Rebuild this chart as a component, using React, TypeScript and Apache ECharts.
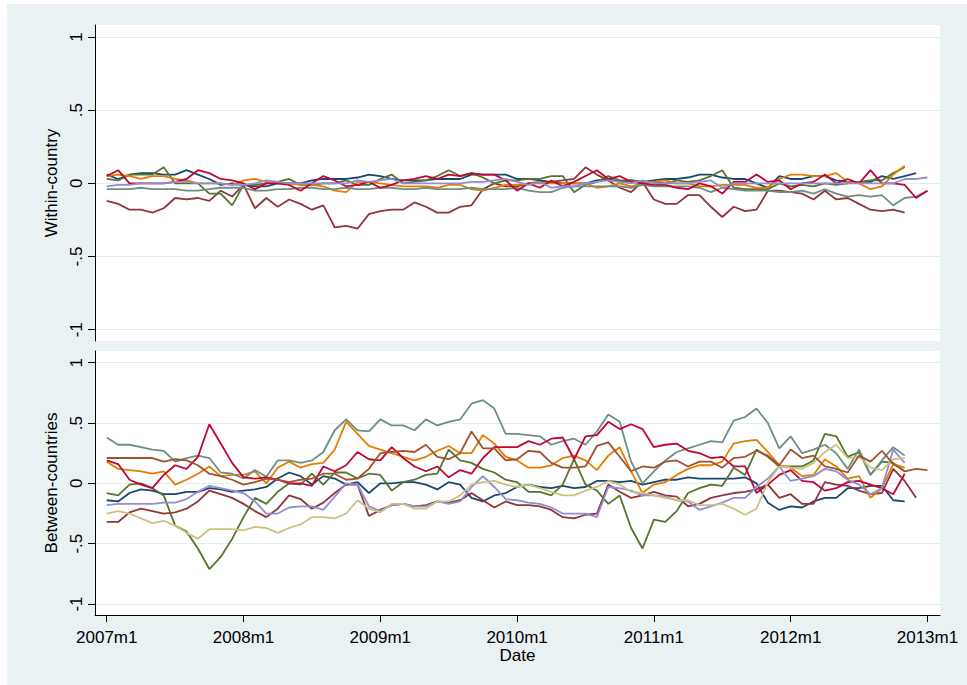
import React, { useEffect, useRef } from "react";
import * as echarts from "echarts";

// ---------- Tick labels ----------
const xTickValues = [0, 12, 24, 36, 48, 60, 72];
const xTickLabels = ["2007m1", "2008m1", "2009m1", "2010m1", "2011m1", "2012m1", "2013m1"];
const yTickValues = [-1, -0.5, 0, 0.5, 1];
const yTickLabels = ["-1", "-.5", "0", ".5", "1"];

// ---------- Within-country (top panel), monthly from 2007m1 ----------
const wNavy = [0.06, 0.03, 0.06, 0.07, 0.07, 0.06, 0.06, 0.09, 0.06, 0.03, -0.01, 0.0, -0.01, -0.02, -0.02, 0.0, 0.0, 0.0, 0.02, 0.03, 0.03, 0.03, 0.04, 0.06, 0.05, 0.03, 0.02, 0.02, 0.02, 0.03, 0.03, 0.03, 0.06, 0.06, 0.06, 0.06, 0.03,
  0.03, 0.02, 0.01, 0.0, 0.0, 0.0, 0.02, 0.03, 0.01, 0.02, 0.01, 0.02, 0.03, 0.03, 0.04, 0.06, 0.06, 0.04, 0.03, 0.03, 0.0, -0.03, 0.05, 0.03, 0.03, 0.05, 0.05, 0.02, 0.01, 0.01, 0.01, 0.05, 0.03, 0.05, 0.07];
const wMaroon = [-0.12, -0.14, -0.18, -0.18, -0.2, -0.17, -0.1, -0.11, -0.1, -0.12, -0.05, -0.09, -0.01, -0.17, -0.1, -0.16, -0.11, -0.14, -0.18, -0.15, -0.3, -0.29, -0.31, -0.21, -0.19, -0.18, -0.18, -0.13, -0.16, -0.2, -0.2, -0.16, -0.15, -0.04, 0.0, -0.02, -0.02,
  0.0, 0.01, 0.01, 0.02, 0.03, 0.11, 0.06, 0.02, -0.03, -0.06, 0.01, -0.11, -0.14, -0.14, -0.08, -0.08, -0.16, -0.23, -0.16, -0.19, -0.18, -0.05, -0.05, -0.06, -0.07, -0.11, -0.05, -0.11, -0.1, -0.14, -0.18, -0.19, -0.18, -0.2];
const wGreen = [0.03, 0.02, 0.06, 0.06, 0.06, 0.11, 0.0, 0.0, 0.0, -0.07, -0.07, -0.15, -0.01, -0.01, 0.0, 0.01, 0.03, -0.01, -0.01, 0.0, 0.0, 0.02, -0.01, -0.01, 0.03, 0.06, 0.0, 0.01, 0.02, 0.05, 0.09, 0.05, 0.07, 0.04, 0.0, 0.02, 0.02,
  0.03, 0.03, 0.05, 0.05, -0.06, -0.01, 0.01, 0.05, 0.02, 0.02, 0.01, 0.01, 0.0, 0.02, 0.01, 0.02, 0.05, 0.09, -0.03, -0.04, -0.04, -0.04, 0.0, -0.02, -0.01, -0.02, 0.0, -0.01, 0.0, 0.01, 0.02, 0.02, 0.07, 0.11];
const wOrange = [0.05, 0.06, 0.05, 0.03, 0.05, 0.05, 0.03, 0.02, 0.0, 0.0, 0.0, -0.01, 0.02, 0.03, 0.01, 0.0, 0.0, -0.01, -0.01, -0.02, -0.05, -0.06, 0.01, 0.01, 0.0, -0.01, -0.02, -0.02, -0.02, -0.03, -0.01, -0.01, -0.04, -0.05, -0.03, -0.01, -0.01,
  0.0, 0.0, 0.0, 0.0, 0.0, 0.0, -0.03, -0.02, 0.0, -0.02, 0.0, 0.01, 0.02, 0.0, 0.0, -0.02, -0.02, -0.01, -0.01, -0.01, -0.03, -0.03, 0.03, 0.06, 0.06, 0.05, 0.05, 0.07, 0.01, 0.0, -0.04, -0.02, 0.06, 0.12];
const wTeal = [-0.04, -0.04, -0.04, -0.03, -0.04, -0.04, -0.04, -0.05, -0.05, -0.04, -0.03, -0.03, -0.03, -0.05, -0.05, -0.04, -0.04, -0.03, -0.03, -0.04, -0.04, -0.03, -0.04, -0.04, -0.03, -0.03, -0.04, -0.04, -0.03, -0.04, -0.04, -0.04, -0.03, -0.04, -0.04, -0.04, -0.03,
  -0.05, -0.06, -0.06, -0.03, -0.02, -0.02, -0.02, -0.02, -0.02, -0.03, -0.01, -0.02, -0.02, -0.02, -0.02, -0.03, -0.06, -0.03, -0.04, -0.05, -0.05, -0.05, -0.06, -0.06, -0.05, -0.07, -0.04, -0.07, -0.09, -0.08, -0.09, -0.08, -0.15, -0.1, -0.09, -0.05];
const wRed = [0.05, 0.09, 0.0, 0.0, 0.0, 0.0, 0.01, 0.03, 0.09, 0.07, 0.03, 0.02, 0.0, -0.04, 0.0, 0.0, -0.01, -0.05, 0.0, 0.05, 0.02, -0.02, -0.01, 0.01, -0.03, -0.01, 0.02, 0.03, 0.05, 0.03, 0.06, 0.05, 0.07, 0.06, 0.06, 0.02, -0.05,
  0.0, -0.03, 0.02, -0.02, 0.01, 0.05, 0.09, 0.03, 0.05, 0.01, 0.0, -0.01, -0.01, -0.03, -0.04, 0.0, -0.02, -0.07, 0.01, 0.01, 0.06, 0.01, 0.02, -0.04, 0.0, 0.01, 0.06, 0.0, 0.03, 0.0, 0.09, 0.0, 0.0, -0.01, -0.1, -0.05];
const wLavender = [-0.02, -0.01, -0.01, 0.0, 0.0, 0.0, 0.01, 0.01, 0.0, 0.0, 0.0, -0.01, -0.01, 0.0, 0.02, 0.01, 0.0, 0.0, 0.0, 0.0, 0.0, 0.0, 0.02, 0.01, 0.02, 0.03, 0.0, 0.0, 0.0, 0.0, 0.0, 0.0, 0.01, 0.01, 0.02, 0.03, 0.01,
  -0.01, 0.01, -0.03, -0.02, -0.02, 0.0, 0.01, 0.02, 0.01, 0.0, 0.02, 0.0, 0.0, 0.0, 0.0, 0.01, 0.02, -0.03, 0.0, 0.0, 0.0, 0.0, 0.0, 0.0, 0.0, 0.0, 0.0, 0.0, 0.0, 0.0, 0.0, 0.0, 0.0, 0.03, 0.03, 0.04];

// ---------- Between-countries (bottom panel), monthly from 2007m1 ----------
const bNavy = [-0.14, -0.15, -0.08, -0.05, -0.06, -0.09, -0.09, -0.07, -0.07, -0.04, -0.05, -0.07, -0.06, -0.05, -0.03, 0.04, 0.09, 0.06, -0.01,
  0.06, 0.04, -0.01, 0.01, -0.08, 0.0, 0.0, 0.01, 0.01, -0.01, -0.05, 0.01, -0.01, -0.12, -0.15, -0.1, -0.08, -0.03,
  -0.01, -0.03, -0.04, -0.02, -0.04, -0.03, 0.02, 0.02, 0.01, 0.02, -0.01, 0.01, 0.03, 0.03, 0.05, 0.04, 0.04, 0.04, 0.04,
  0.05, 0.0, -0.16, -0.22, -0.19, -0.2, -0.15, -0.12, -0.12, -0.04, -0.04, -0.02, -0.02, -0.14, -0.15];
const bMaroon = [-0.32, -0.32, -0.24, -0.21, -0.23, -0.25, -0.24, -0.21, -0.15, -0.06, -0.09, -0.12, -0.17, -0.23, -0.28, -0.21, -0.1, -0.13, -0.21,
  -0.16, -0.08, -0.01, -0.01, -0.27, -0.22, -0.18, -0.17, -0.19, -0.18, -0.15, -0.16, -0.14, -0.08, -0.14, -0.2, -0.15, -0.18,
  -0.18, -0.19, -0.22, -0.28, -0.29, -0.26, -0.25, -0.01, -0.07, -0.12, -0.1, -0.07, -0.1, -0.11, -0.19, -0.17, -0.12, -0.1, -0.08,
  -0.07, -0.05, -0.01, -0.12, -0.09, -0.17, -0.17, 0.01, -0.01, -0.02, -0.06, -0.09, -0.08, 0.12, 0.02, -0.12];
const bGreen = [-0.08, -0.1, -0.01, 0.0, -0.04, -0.1, -0.35, -0.4, -0.54, -0.71, -0.61, -0.46, -0.28, -0.12, -0.17, -0.07, 0.0, -0.01, 0.08,
  -0.01, 0.09, 0.09, 0.04, 0.08, 0.07, -0.06, 0.01, 0.03, 0.07, 0.08, 0.28, 0.19, 0.17, 0.12, 0.09, 0.03, 0.01,
  -0.07, -0.07, -0.1, -0.01, 0.2, -0.01, -0.06, -0.17, -0.1, -0.37, -0.54, -0.3, -0.32, -0.23, -0.08, -0.04, -0.01, -0.02, 0.13,
  0.07, 0.28, 0.22, 0.14, 0.14, 0.14, 0.19, 0.41, 0.39, 0.22, 0.26, 0.07, 0.18, 0.17, 0.1];
const bOrange = [0.18, 0.12, 0.11, 0.1, 0.08, 0.1, -0.01, 0.03, 0.08, 0.14, 0.06, 0.07, 0.07, 0.1, 0.0, 0.13, 0.18, 0.13, 0.16,
  0.17, 0.28, 0.51, 0.41, 0.31, 0.28, 0.25, 0.22, 0.19, 0.22, 0.27, 0.31, 0.25, 0.25, 0.4, 0.33, 0.22, 0.19,
  0.13, 0.13, 0.15, 0.21, 0.23, 0.19, 0.11, 0.23, 0.3, 0.1, -0.08, -0.01, 0.01, 0.07, 0.12, 0.15, 0.15, 0.18, 0.33,
  0.35, 0.36, 0.26, 0.15, 0.13, 0.06, 0.07, 0.2, 0.14, 0.04, 0.06, -0.12, -0.04, 0.16, 0.13];
const bTeal = [0.38, 0.32, 0.32, 0.3, 0.28, 0.27, 0.18, 0.21, 0.23, 0.21, 0.09, 0.08, 0.04, 0.11, 0.055, 0.19, 0.19, 0.17, 0.19,
  0.26, 0.44, 0.53, 0.44, 0.43, 0.53, 0.48, 0.48, 0.44, 0.53, 0.48, 0.51, 0.53, 0.66, 0.69, 0.62, 0.41, 0.41,
  0.4, 0.39, 0.32, 0.35, 0.37, 0.32, 0.43, 0.57, 0.51, 0.18, 0.0, 0.1, 0.19, 0.26, 0.29, 0.32, 0.35, 0.34, 0.52,
  0.55, 0.62, 0.5, 0.29, 0.39, 0.25, 0.28, 0.32, 0.25, 0.12, 0.28, 0.07, 0.19, 0.3, 0.23];
const bRed = [0.19, 0.16, 0.03, -0.01, -0.04, 0.07, 0.15, 0.12, 0.22, 0.49, 0.33, 0.17, 0.05, 0.04, 0.05, 0.03, 0.0, 0.0, -0.02,
  0.14, 0.1, 0.15, 0.26, 0.2, 0.19, 0.3, 0.21, 0.14, 0.1, 0.14, 0.05, 0.11, 0.08, 0.21, 0.3, 0.3, 0.3,
  0.35, 0.32, 0.37, 0.38, 0.2, 0.39, 0.4, 0.51, 0.45, 0.49, 0.45, 0.3, 0.32, 0.33, 0.27, 0.25, 0.21, 0.22, 0.14,
  0.14, -0.08, -0.01, 0.07, 0.11, 0.02, 0.01, -0.06, -0.04, 0.01, 0.02, -0.01, -0.04, -0.09, 0.08];
const bLavender = [-0.18, -0.17, -0.17, -0.17, -0.17, -0.16, -0.16, -0.13, -0.07, -0.02, -0.04, -0.06, -0.08, -0.15, -0.25, -0.25, -0.2, -0.19, -0.19,
  -0.22, -0.11, 0.0, -0.01, -0.19, -0.23, -0.18, -0.17, -0.19, -0.19, -0.15, -0.17, -0.15, -0.03, 0.06, -0.03, -0.13, -0.14,
  -0.16, -0.17, -0.2, -0.25, -0.25, -0.25, -0.28, -0.03, -0.04, -0.06, -0.1, -0.1, -0.11, -0.14, -0.15, -0.22, -0.19, -0.16, -0.12,
  -0.12, -0.03, 0.04, 0.14, 0.02, 0.04, 0.06, 0.12, 0.1, 0.03, -0.01, -0.09, -0.04, 0.28, 0.17];
const bKhaki = [-0.25, -0.23, -0.25, -0.29, -0.33, -0.31, -0.35, -0.41, -0.46, -0.38, -0.38, -0.38, -0.39, -0.36, -0.37, -0.41, -0.37, -0.34, -0.28,
  -0.28, -0.29, -0.25, -0.14, -0.21, -0.24, -0.17, -0.17, -0.21, -0.21, -0.15, -0.15, -0.1, -0.01, 0.01, 0.02, -0.01, -0.03,
  -0.01, -0.04, -0.07, -0.1, -0.1, -0.06, -0.03, 0.02, -0.01, -0.07, -0.08, -0.1, -0.12, -0.14, -0.14, -0.18, -0.18, -0.17, -0.21,
  -0.26, -0.21, 0.01, 0.14, 0.13, 0.12, 0.17, 0.26, 0.32, 0.21, 0.22, 0.13, 0.11, 0.2, 0.21];
const bSienna = [0.21, 0.21, 0.21, 0.21, 0.21, 0.18, 0.2, 0.19, 0.15, 0.08, 0.06, 0.03, -0.01, 0.01, 0.04, 0.03, 0.01, 0.03, 0.04,
  0.08, 0.08, 0.03, 0.04, 0.12, 0.25, 0.26, 0.27, 0.26, 0.32, 0.22, 0.2, 0.25, 0.43, 0.29, 0.29, 0.19, 0.2,
  0.27, 0.26, 0.17, 0.13, 0.13, 0.14, 0.31, 0.34, 0.22, 0.1, 0.14, 0.13, 0.18, 0.19, 0.14, 0.18, 0.18, 0.13, 0.21,
  0.22, 0.27, 0.23, 0.15, 0.28, 0.21, 0.23, 0.14, 0.12, 0.09, 0.23, 0.18, 0.27, 0.16, 0.1, 0.12, 0.11];

// Stata s2color palette
const NAVY = "#1a476f";
const MAROON = "#90353b";
const GREEN = "#55752f";
const ORANGE = "#e37e00";
const TEAL = "#6e8e84";
const RED = "#c10534";
const LAVENDER = "#938dd2";
const KHAKI = "#cac27e";
const SIENNA = "#a0522d";

const BG = "#e9f1f3";
const GRID_COLOR = "#e4ecef";
const FONT = "'Liberation Sans', Arial, Helvetica, sans-serif";

const X_MIN = -1.03;
const X_MAX = 73.1;

const topSeries = [
  { values: wNavy, color: NAVY },
  { values: wMaroon, color: MAROON },
  { values: wGreen, color: GREEN },
  { values: wOrange, color: ORANGE },
  { values: wTeal, color: TEAL },
  { values: wRed, color: RED },
  { values: wLavender, color: LAVENDER },
];
const bottomSeries = [
  { values: bNavy, color: NAVY },
  { values: bMaroon, color: MAROON },
  { values: bGreen, color: GREEN },
  { values: bOrange, color: ORANGE },
  { values: bTeal, color: TEAL },
  { values: bRed, color: RED },
  { values: bLavender, color: LAVENDER },
  { values: bKhaki, color: KHAKI },
  { values: bSienna, color: SIENNA },
];

function yLabel(v: number) {
  const i = yTickValues.findIndex((t) => Math.abs(t - v) < 1e-9);
  return i >= 0 ? yTickLabels[i] : "";
}
function xLabel(v: number) {
  const i = xTickValues.findIndex((t) => Math.abs(t - v) < 1e-9);
  return i >= 0 ? xTickLabels[i] : "";
}

function makeYAxis(gridIndex: number, min: number, max: number, name: string) {
  return {
    gridIndex,
    type: "value",
    min,
    max,
    name,
    nameLocation: "middle",
    nameGap: 31,
    nameTextStyle: { fontSize: 17, color: "#000", fontFamily: FONT },
    axisLine: { show: true, onZero: false, lineStyle: { color: "#000", width: 1 } },
    axisTick: { show: true, length: 7, customValues: yTickValues, lineStyle: { color: "#000", width: 1 } },
    axisLabel: {
      show: true,
      customValues: yTickValues,
      rotate: 90,
      margin: 10,
      fontSize: 17,
      color: "#000",
      fontFamily: FONT,
      formatter: (v: number) => yLabel(v),
    },
    splitLine: { show: true, lineStyle: { color: GRID_COLOR, width: 1.2 } },
  };
}

export default function App() {
  const ref = useRef<HTMLDivElement>(null);
  useEffect(() => {
    if (!ref.current) return;
    const chart = echarts.init(ref.current, undefined, { renderer: "svg" });
    const series: any[] = [];
    topSeries.forEach((s) => {
      series.push({
        type: "line",
        xAxisIndex: 0,
        yAxisIndex: 0,
        data: s.values.map((v, i) => [i, v]),
        showSymbol: false,
        lineStyle: { color: s.color, width: 1.8 },
        itemStyle: { color: s.color },
        silent: true,
      });
    });
    bottomSeries.forEach((s) => {
      series.push({
        type: "line",
        xAxisIndex: 1,
        yAxisIndex: 1,
        data: s.values.map((v, i) => [i, v]),
        showSymbol: false,
        lineStyle: { color: s.color, width: 1.8 },
        itemStyle: { color: s.color },
        silent: true,
      });
    });
    const option: any = {
      animation: false,
      backgroundColor: BG,
      textStyle: { fontFamily: FONT },
      graphic: [
        { type: "rect", left: 0, top: 0, shape: { x: 0, y: 0, width: 7, height: 685 }, style: { fill: "#fff" }, silent: true },
        { type: "rect", left: 0, top: 0, shape: { x: 0, y: 0, width: 967, height: 4 }, style: { fill: "#fff" }, silent: true },
      ],
      grid: [
        { left: 95, top: 25, width: 845, height: 316, show: true, backgroundColor: "#fff", borderWidth: 0, containLabel: false },
        { left: 95, top: 351, width: 845, height: 264, show: true, backgroundColor: "#fff", borderWidth: 0, containLabel: false },
      ],
      xAxis: [
        {
          gridIndex: 0,
          type: "value",
          min: X_MIN,
          max: X_MAX,
          axisLine: { show: false },
          axisTick: { show: false },
          axisLabel: { show: false },
          splitLine: { show: false },
        },
        {
          gridIndex: 1,
          type: "value",
          min: X_MIN,
          max: X_MAX,
          name: "Date",
          nameLocation: "middle",
          nameGap: 30,
          nameTextStyle: { fontSize: 17, color: "#000", fontFamily: FONT },
          axisLine: { show: true, onZero: false, lineStyle: { color: "#000", width: 1 } },
          axisTick: { show: true, length: 7, customValues: xTickValues, lineStyle: { color: "#000", width: 1 } },
          axisLabel: {
            show: true,
            customValues: xTickValues,
            margin: 14,
            fontSize: 17,
            color: "#000",
            fontFamily: FONT,
            formatter: (v: number) => xLabel(v),
          },
          splitLine: { show: false },
        },
      ],
      yAxis: [
        makeYAxis(0, -1.077, 1.082, "Within-country"),
        makeYAxis(1, -1.091, 1.097, "Between-countries"),
      ],
      series,
    };
    chart.setOption(option);
    return () => chart.dispose();
  }, []);
  return <div ref={ref} style={{ position: "fixed", left: 0, top: 0, width: 967, height: 685 }} />;
}
